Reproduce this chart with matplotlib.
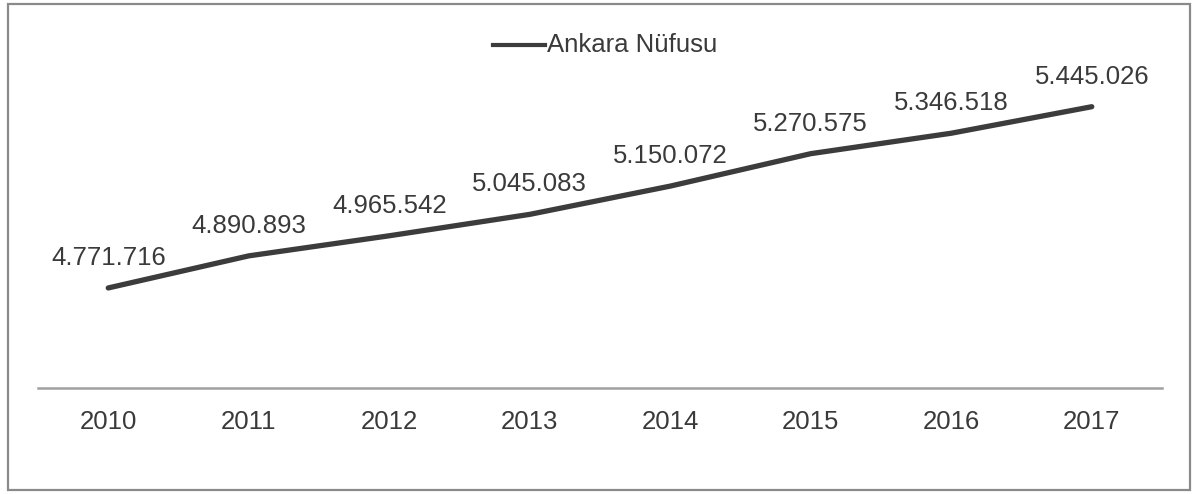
import matplotlib
matplotlib.use("Agg")
import matplotlib.pyplot as plt
from matplotlib.patches import Rectangle
from matplotlib.lines import Line2D

plt.rcParams['font.family'] = ['Liberation Sans', 'DejaVu Sans']

years = ['2010', '2011', '2012', '2013', '2014', '2015', '2016', '2017']
population = [4771716, 4890893, 4965542, 5045083, 5150072, 5270575, 5346518, 5445026]
series_name = 'Ankara Nüfusu'


def fmt(v):
    return '{:,}'.format(v).replace(',', '.')


W, H = 1200, 494
fig = plt.figure(figsize=(W / 100, H / 100), dpi=100)
fig.patch.set_facecolor('white')

# outer frame
fig.patches.append(Rectangle((8 / W, 4 / H), 1182 / W, 486 / H, transform=fig.transFigure,
                             fill=False, edgecolor='#8a8a8a', linewidth=1.6))

ax = fig.add_axes([38 / W, (H - 388) / H, 1124 / W, (388 - 65) / H])
x = list(range(len(years)))
ax.plot(x, population, color='#3c3c3c', linewidth=3.8, solid_capstyle='round')

for xi, v in zip(x, population):
    ax.annotate(fmt(v), (xi, v), xytext=(0, 13), textcoords='offset points',
                ha='center', va='bottom', fontsize=18.5, color='#3a3a3a', annotation_clip=False)

ax.set_xlim(-0.5, len(years) - 0.5)
ax.set_ylim(4400000, 5600000)
ax.set_xticks(x)
ax.set_xticklabels(years, fontsize=18.5, color='#3a3a3a')
ax.tick_params(axis='x', length=0, pad=16)
ax.set_yticks([])
for side in ['top', 'right', 'left']:
    ax.spines[side].set_visible(False)
ax.spines['bottom'].set_color('#a0a0a0')
ax.spines['bottom'].set_linewidth(1.8)
ax.patch.set_alpha(0)

# legend at top
fig.lines.append(Line2D([493 / W, 545 / W], [(H - 45) / H] * 2, transform=fig.transFigure,
                        color='#3c3c3c', linewidth=3.0))
fig.text(547 / W, (H - 45) / H, series_name, ha='left', va='center',
         fontsize=18.5, color='#3a3a3a')

fig.savefig('out.png', dpi=100)
